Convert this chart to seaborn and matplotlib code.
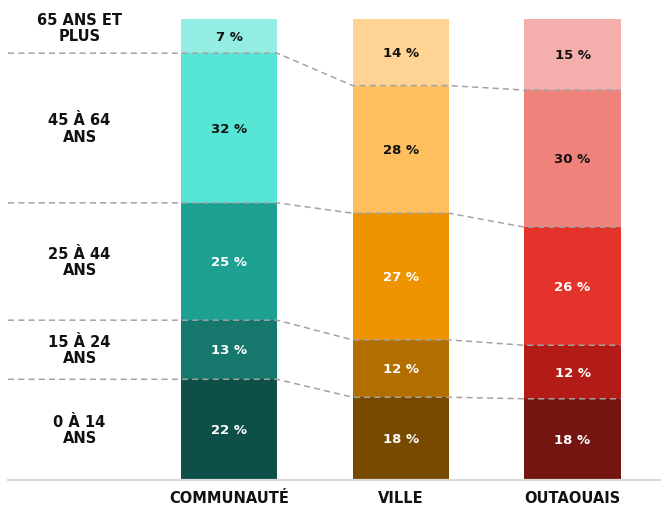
import numpy as np
import matplotlib
matplotlib.use("Agg")
import matplotlib.pyplot as plt
import seaborn as sns

# Données
regions = ["COMMUNAUTÉ", "VILLE", "OUTAOUAIS"]
age_groups = ["0 À 14\nANS", "15 À 24\nANS", "25 À 44\nANS", "45 À 64\nANS", "65 ANS ET\nPLUS"]

# part de chaque groupe d'âge (%), du plus jeune au plus vieux
communaute = [21.8, 12.8, 25.4, 32.4, 7.4]
ville = [17.9, 12.4, 27.4, 27.6, 14.4]
outaouais = [17.6, 11.6, 25.6, 29.7, 15.4]

colors_communaute = ["#0E4F47", "#16786D", "#1BA092", "#57E5D5", "#93EDE2"]
colors_ville = ["#774A00", "#B36E00", "#EF9300", "#FFBF5F", "#FFD394"]
colors_outaouais = ["#751511", "#B31B17", "#E3332B", "#EF837C", "#F4AEAB"]

shares = np.array([communaute, ville, outaouais])
heights = shares / shares.sum(axis=1, keepdims=True) * 100
cum = heights.cumsum(axis=1)
mids = cum - heights / 2
palettes = [colors_communaute, colors_ville, colors_outaouais]

sns.set_style("white")
plt.rcParams["font.family"] = ["DejaVu Sans"]

fig = plt.figure(figsize=(6.61, 5.06), dpi=100)
ax = fig.add_axes([8 / 661, 25 / 506, 653 / 661, 461 / 506])

bar_w = 0.56
# barres empilées : on dessine les cumuls du plus haut au plus bas
for k in reversed(range(len(age_groups))):
    sns.barplot(x=regions, y=cum[:, k], hue=regions,
                palette=[p[k] for p in palettes], width=bar_w,
                saturation=1, linewidth=0, errorbar=None,
                legend=False, ax=ax)

xl, xr = -1.287, 2.515
half = bar_w / 2

# lignes pointillées reliant les groupes
for k in range(len(age_groups) - 1):
    y = cum[:, k]
    xs = [xl]
    ys = [y[0]]
    for i in range(len(regions)):
        xs += [i - half, i + half]
        ys += [y[i], y[i]]
    xs = xs[:1] + xs[2:]
    ys = ys[:1] + ys[2:]
    ax.plot(xs, ys, color="#A3A3A3", lw=1.1, dashes=(4, 2.7), zorder=5)

# étiquettes des valeurs
for i in range(len(regions)):
    for k in range(len(age_groups)):
        txt_color = "#111111" if k >= 3 else "white"
        ax.text(i, mids[i, k], f"{round(shares[i, k])} %", ha="center",
                va="center", fontsize=9.5, fontweight="bold",
                color=txt_color, zorder=6)

# étiquettes des groupes d'âge (la dernière remonte en haut)
label_y = mids[0].copy()
label_y[-1] = 98.2
for k, lab in enumerate(age_groups):
    ax.text(-0.87, label_y[k], lab, ha="center", va="center", fontsize=10.5,
            fontweight="bold", color="#111111", linespacing=1.1)

ax.set_xlim(xl, xr)
ax.set_ylim(0, 100)
ax.set_yticks([])
ax.set_xticks(range(len(regions)))
ax.set_xticklabels(regions, fontsize=10.5, fontweight="bold", color="#111111")
ax.tick_params(axis="x", length=0, pad=7)
ax.set_xlabel("")
ax.set_ylabel("")
for s in ["top", "left", "right"]:
    ax.spines[s].set_visible(False)
ax.spines["bottom"].set_color("#DCDCDC")
ax.spines["bottom"].set_linewidth(1.6)

fig.savefig("out.png", dpi=100)
plt.close(fig)
